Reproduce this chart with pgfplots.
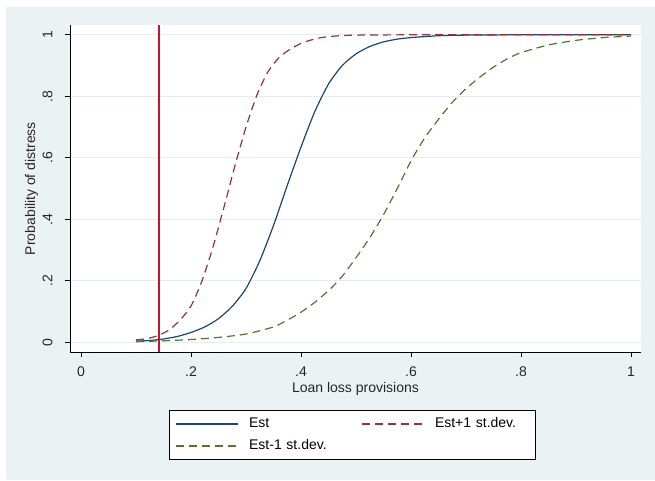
\documentclass[border=0pt]{standalone}
\usepackage{pgfplots}
\pgfplotsset{compat=1.18}
\usepackage{fontspec}
\setmainfont{Liberation Sans}
\definecolor{bgc}{HTML}{EAF2F3}
\definecolor{gridc}{HTML}{E4ECEE}
\definecolor{estc}{HTML}{1A476F}
\definecolor{upc}{HTML}{90353B}
\definecolor{loc}{HTML}{55752F}
\definecolor{vlinecol}{RGB}{205,15,50}
\begin{document}
\begin{tikzpicture}
\fill[white] (0pt,0pt) rectangle (491.25pt,360pt);
\fill[bgc] (4.5pt,0pt) rectangle (491.25pt,354.75pt);
\begin{axis}[
  at={(52.5pt,96pt)}, anchor=south west,
  scale only axis, width=428.25pt, height=245.25pt,
  xmin=-0.02, xmax=1.0182, ymin=-0.0315, ymax=1.0319,
  axis background/.style={fill=white},
  axis x line*=bottom, axis y line*=left,
  axis line style={black, line width=0.75pt},
  tick align=outside, major tick length=4pt,
  tick style={black, line width=0.75pt},
  xtick={0,0.2,0.4,0.6,0.8,1}, xticklabels={0,.2,.4,.6,.8,1},
  ytick={0,0.2,0.4,0.6,0.8,1}, yticklabels={0,.2,.4,.6,.8,1},
  ymajorgrids, major grid style={gridc, line width=0.75pt},
  /pgf/number format/assume math mode=true,
  font=\fontsize{10.5}{12}\selectfont,
  ticklabel style={font=\fontsize{10.5}{12}\selectfont, text=black!85},
  yticklabel style={rotate=90, anchor=south, inner sep=0pt, yshift=9pt},
  xticklabel style={inner sep=0pt, yshift=-7pt},
  xlabel={Loan loss provisions},
  ylabel={Probability of distress},
  xlabel style={at={(axis description cs:0.5,-0.1244)}, anchor=base, inner sep=0pt, text=black!85},
  ylabel style={at={(axis description cs:-0.0674,0.5)}, anchor=center, rotate=0, inner sep=0pt, text=black!85},
  legend columns=2,
  legend cell align=left,
  legend image code/.code={\draw[#1, line width=1.4pt] (0pt,0pt) -- (46.5pt,0pt);},
  legend style={at={(axis description cs:0.1734,-0.1774)}, anchor=north west,
    fill=white, 
    inner xsep=4.5pt, inner ysep=5pt,
    font=\fontsize{10.5}{12}\selectfont,
    nodes={inner sep=0pt, text height=7.8pt, text depth=2.2pt},
    row sep=6.5pt,
    /tikz/every odd column/.append style={column sep=7.5pt},
  },
  legend style={/tikz/column 2/.style={column sep=12pt, text width=72pt}, /tikz/column 3/.style={column sep=9pt}, /tikz/column 4/.style={text width=70.5pt}},
]
\addplot[color=vlinecol, line width=1.5pt, forget plot] coordinates {(0.1424,-0.0315) (0.1424,1.0319)};
\addplot[color=estc, line width=0.9pt, smooth, tension=0.4] coordinates {
(0.1,0.004) (0.125,0.006) (0.15,0.011) (0.175,0.019) (0.2,0.032) (0.225,0.05)
(0.25,0.077) (0.275,0.117) (0.3,0.175) (0.325,0.265) (0.35,0.38) (0.375,0.51)
(0.4,0.635) (0.425,0.75) (0.45,0.84) (0.475,0.9) (0.5,0.938) (0.525,0.962)
(0.55,0.977) (0.575,0.986) (0.6,0.991) (0.65,0.997) (0.7,0.999) (0.8,1) (1,1)};
\addlegendentry{Est}
\addplot[color=upc, line width=0.9pt, dash pattern=on 6pt off 3.75pt, smooth, tension=0.4] coordinates {
(0.1,0.008) (0.12,0.012) (0.14,0.022) (0.16,0.04) (0.18,0.072) (0.2,0.118)
(0.22,0.2) (0.24,0.31) (0.26,0.44) (0.28,0.575) (0.3,0.7) (0.32,0.805)
(0.34,0.88) (0.36,0.926) (0.38,0.953) (0.4,0.972) (0.42,0.984) (0.44,0.992)
(0.47,0.997) (0.5,0.999) (0.6,1) (0.8,1) (1,1)};
\addlegendentry{Est+1 st.dev.}
\addplot[color=loc, line width=0.9pt, dash pattern=on 6pt off 3.75pt, smooth, tension=0.4] coordinates {
(0.1,0.002) (0.15,0.005) (0.2,0.009) (0.25,0.016) (0.3,0.027) (0.35,0.05)
(0.375,0.072) (0.4,0.098) (0.425,0.13) (0.45,0.168) (0.475,0.215) (0.5,0.275)
(0.525,0.34) (0.55,0.415) (0.575,0.5) (0.6,0.59) (0.625,0.665) (0.65,0.725)
(0.675,0.78) (0.7,0.825) (0.725,0.862) (0.75,0.895) (0.775,0.922) (0.8,0.942)
(0.85,0.967) (0.9,0.982) (0.95,0.991) (1,0.996)};
\addlegendentry{Est-1 st.dev.}
\end{axis}
\end{tikzpicture}
\end{document}
